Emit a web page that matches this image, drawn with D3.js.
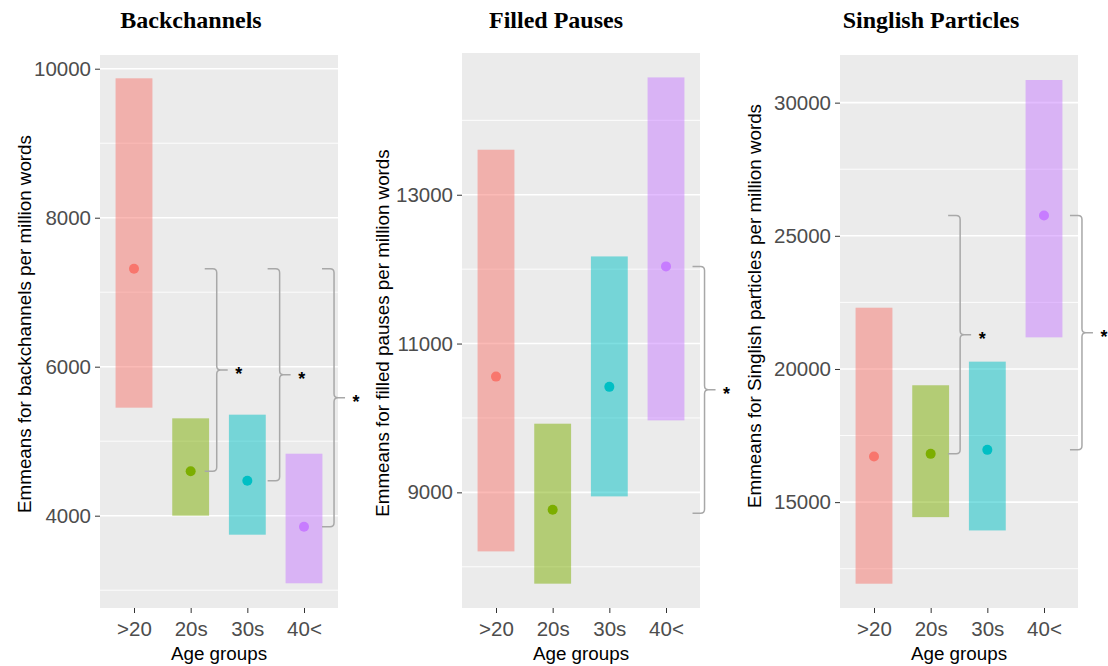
<!DOCTYPE html>
<meta charset="utf-8">
<script src="https://cdn.jsdelivr.net/npm/d3@7"></script>
<style>
body { margin: 0; background: #fff; }
.tick text { font-family: "Liberation Sans", Arial, sans-serif; font-size: 20.5px; fill: #4d4d4d; }
.tick line { stroke: #333; }
.axis-title { font-family: "Liberation Sans", Arial, sans-serif; font-size: 18.8px; fill: #000; }
.panel-title { font-family: "Liberation Serif", "Times New Roman", serif; font-size: 24px; font-weight: bold; fill: #000; }
.star { font-family: "Liberation Sans", Arial, sans-serif; font-size: 18px; font-weight: bold; fill: #000; }
</style>
<body>
<script>

// age groups and colours (ggplot default hues)
var categories = [">20", "20s", "30s", "40<"];
var colors = ["#F8766D", "#7CAE00", "#00BFC4", "#C77CFF"];

// Backchannels
var backMean  = [7315, 4596, 4470, 3852];
var backLower = [5450, 4000, 3745, 3093];
var backUpper = [9871, 5307, 5356, 4832];
var backTicks = [4000, 6000, 8000, 10000];
var backDomain = [2761, 10184];
// brackets: x in category units (1 = first group), top / bottom values
var backBrackets = [
  {x: 2.46, top: 7315, bottom: 4596, label: "*"},
  {x: 3.57, top: 7315, bottom: 4470, label: "*"},
  {x: 4.53, top: 7315, bottom: 3852, label: "*"}
];

// Filled pauses
var fillMean  = [10556, 8767, 10418, 12037];
var fillLower = [8207, 7773, 8946, 9968];
var fillUpper = [13605, 9923, 12171, 14577];
var fillTicks = [9000, 11000, 13000];
var fillDomain = [7446, 14905];
var fillBrackets = [
  {x: 4.68, top: 12037, bottom: 8720, label: "*"}
];

// Singlish particles
var singMean  = [16712, 16813, 16963, 25763];
var singLower = [11937, 14437, 13937, 21188];
var singUpper = [22300, 19388, 20275, 30850];
var singTicks = [15000, 20000, 25000, 30000];
var singDomain = [11025, 31789];
var singBrackets = [
  {x: 2.52, top: 25763, bottom: 16813, label: "*"},
  {x: 4.67, top: 25763, bottom: 16963, label: "*"}
];

var panels = [
  {title: "Backchannels", ytitle: "Emmeans for backchannels per million words",
   mean: backMean, lower: backLower, upper: backUpper, ticks: backTicks, domain: backDomain, brackets: backBrackets,
   left: 100, right: 338, top: 55, bottom: 608, titleX: 191, ytitleX: 31, ytitleY: 324},
  {title: "Filled Pauses", ytitle: "Emmeans for filled pauses per million words",
   mean: fillMean, lower: fillLower, upper: fillUpper, ticks: fillTicks, domain: fillDomain, brackets: fillBrackets,
   left: 462, right: 700, top: 53, bottom: 608, titleX: 556, ytitleX: 389, ytitleY: 333},
  {title: "Singlish Particles", ytitle: "Emmeans for Singlish particles per million words",
   mean: singMean, lower: singLower, upper: singUpper, ticks: singTicks, domain: singDomain, brackets: singBrackets,
   left: 840, right: 1078, top: 55, bottom: 608, titleX: 931, ytitleX: 761, ytitleY: 306}
];

var svg = d3.select("body").append("svg")
    .attr("width", 1108)
    .attr("height", 666);

panels.forEach(function(p) {
  var g = svg.append("g");

  var x = d3.scalePoint()
      .domain(categories)
      .range([p.left, p.right])
      .padding(0.6);
  var unit = x.step();
  // category units -> pixels
  var xu = function(v) { return x(categories[0]) + (v - 1) * unit; };

  var y = d3.scaleLinear()
      .domain(p.domain)
      .range([p.bottom, p.top]);

  g.append("rect")
      .attr("x", p.left).attr("y", p.top)
      .attr("width", p.right - p.left).attr("height", p.bottom - p.top)
      .attr("fill", "#ebebeb");

  // minor grid between major ticks
  var step = p.ticks[1] - p.ticks[0];
  var minor = [];
  for (var v = p.ticks[0] - step / 2; v < p.domain[1]; v += step) {
    if (v > p.domain[0]) minor.push(v);
  }
  g.selectAll(".minor").data(minor).enter().append("line")
      .attr("x1", p.left).attr("x2", p.right)
      .attr("y1", d => y(d)).attr("y2", d => y(d))
      .attr("stroke", "#fff").attr("stroke-width", 0.9);
  g.selectAll(".major").data(p.ticks).enter().append("line")
      .attr("x1", p.left).attr("x2", p.right)
      .attr("y1", d => y(d)).attr("y2", d => y(d))
      .attr("stroke", "#fff").attr("stroke-width", 1.6);

  var bw = unit * 0.65;
  g.selectAll(".bar").data(categories).enter().append("rect")
      .attr("x", d => x(d) - bw / 2)
      .attr("width", bw)
      .attr("y", (d, i) => y(p.upper[i]))
      .attr("height", (d, i) => y(p.lower[i]) - y(p.upper[i]))
      .attr("fill", (d, i) => colors[i])
      .attr("fill-opacity", 0.5);

  g.selectAll(".pt").data(categories).enter().append("circle")
      .attr("cx", d => x(d))
      .attr("cy", (d, i) => y(p.mean[i]))
      .attr("r", 5)
      .attr("fill", (d, i) => colors[i]);

  // significance brackets
  p.brackets.forEach(function(b) {
    var vx = xu(b.x), y1 = y(b.top), y2 = y(b.bottom), ym = (y1 + y2) / 2;
    var lx = vx - 12, r = 4, tip = 11;
    var path = "M" + lx + "," + y1 + "L" + (vx - r) + "," + y1 +
      "Q" + vx + "," + y1 + " " + vx + "," + (y1 + r) +
      "L" + vx + "," + (ym - r) +
      "Q" + vx + "," + ym + " " + (vx + r) + "," + ym +
      "L" + (vx + tip) + "," + ym +
      "M" + (vx + r) + "," + ym +
      "Q" + vx + "," + ym + " " + vx + "," + (ym + r) +
      "L" + vx + "," + (y2 - r) +
      "Q" + vx + "," + y2 + " " + (vx - r) + "," + y2 +
      "L" + lx + "," + y2;
    g.append("path")
        .attr("d", path)
        .attr("fill", "none")
        .attr("stroke", "#a8a8a8")
        .attr("stroke-width", 1.5);
    g.append("text")
        .attr("class", "star")
        .attr("x", vx + 22)
        .attr("y", ym + 10)
        .attr("text-anchor", "middle")
        .text(b.label);
  });

  var ya = g.append("g")
      .attr("transform", "translate(" + p.left + ",0)")
      .call(d3.axisLeft(y).tickValues(p.ticks).tickSize(5).tickPadding(4).tickFormat(d3.format("d")));
  ya.select(".domain").remove();

  var xa = g.append("g")
      .attr("transform", "translate(0," + p.bottom + ")")
      .call(d3.axisBottom(x).tickSize(5).tickPadding(8));
  xa.select(".domain").remove();

  g.append("text")
      .attr("class", "axis-title")
      .attr("x", (p.left + p.right) / 2)
      .attr("y", 660)
      .attr("text-anchor", "middle")
      .text("Age groups");

  g.append("text")
      .attr("class", "axis-title")
      .attr("transform", "translate(" + p.ytitleX + "," + p.ytitleY + ") rotate(-90)")
      .attr("text-anchor", "middle")
      .text(p.ytitle);

  g.append("text")
      .attr("class", "panel-title")
      .attr("x", p.titleX)
      .attr("y", 28)
      .attr("text-anchor", "middle")
      .text(p.title);
});

</script>
